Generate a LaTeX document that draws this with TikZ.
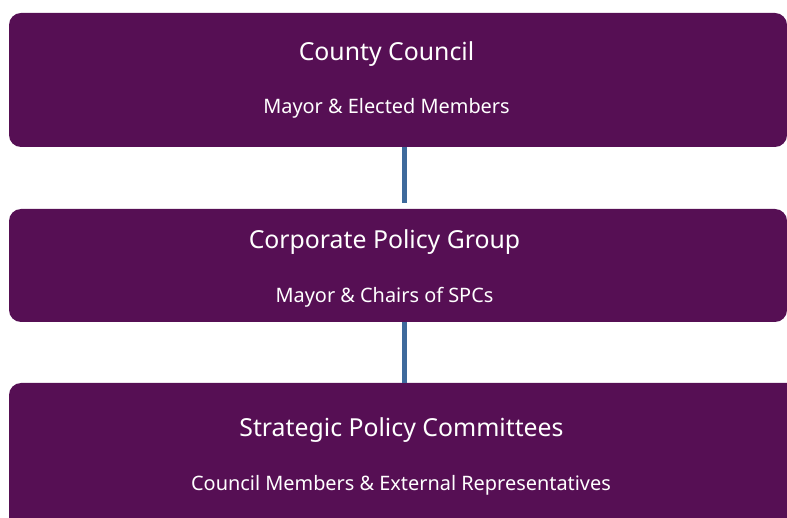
\documentclass[tikz,border=0pt]{standalone}
\usepackage{fontspec}
\setmainfont{Noto Sans}
\definecolor{boxpurple}{RGB}{86,15,84}
\definecolor{linkblue}{RGB}{62,106,156}
\tikzset{
  panel/.style={fill=boxpurple, draw=none, rounded corners=12pt, inner sep=0pt},
  titletext/.style={text=white, font=\fontsize{24.8}{28}\selectfont, inner sep=0pt, anchor=center},
  subtext/.style={text=white, font=\fontsize{19.9}{22}\selectfont, inner sep=0pt, anchor=center},
  link/.style={draw=linkblue, line width=5pt}
}
\begin{document}
\begin{tikzpicture}[x=1pt,y=-1pt]
\useasboundingbox (0,0) rectangle (787,518);
\clip (0,0) rectangle (787,518);
% boxes
\node[panel, minimum width=778pt, minimum height=134pt] (b1) at (398,80) {};
\node[panel, minimum width=778pt, minimum height=113pt] (b2) at (398,265.5) {};
\node[panel, minimum width=800pt, minimum height=150pt] (b3) at (409,458) {};
% texts
\node[titletext] (t1) at (386.5,54) {County Council};
\node[subtext] (s1) at (386.5,108) {Mayor \& Elected Members};
\node[titletext] (t2) at (384.5,242) {Corporate Policy Group};
\node[subtext] (s2) at (384.5,297) {Mayor \& Chairs of SPCs};
\node[titletext] (t3) at (401.5,430) {Strategic Policy Committees};
\node[subtext] (s3) at (401,485) {Council Members \& External Representatives};
% connectors
\coordinate (c1a) at (404.5,147);
\coordinate (c1b) at (404.5,203);
\coordinate (c2a) at (404.5,322);
\coordinate (c2b) at (404.5,383);
\draw[link] (c1a) -- (c1b);
\draw[link] (c2a) -- (c2b);
\end{tikzpicture}
\end{document}
